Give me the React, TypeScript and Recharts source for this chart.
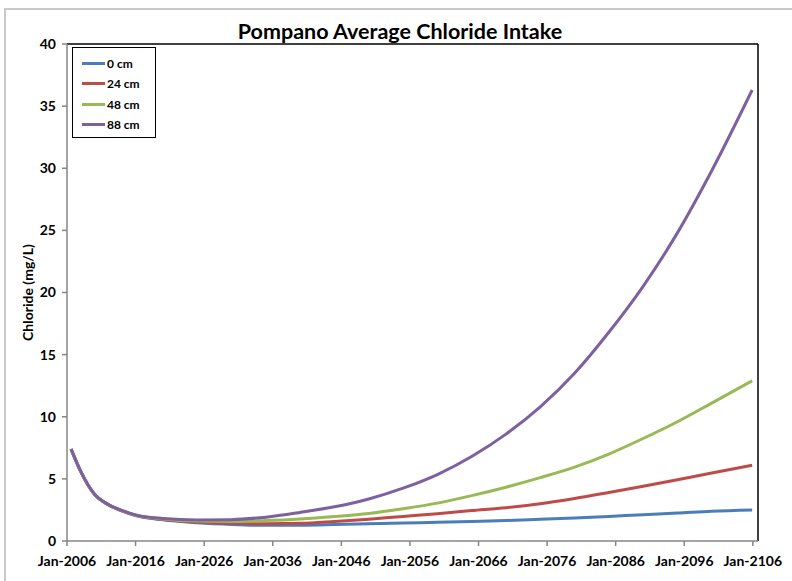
import { LineChart, Line, XAxis, YAxis, ReferenceLine, Label } from 'recharts';

const years = [2006.6, 2008, 2010, 2012, 2014, 2016, 2020, 2025, 2030, 2035, 2040, 2045, 2050, 2055, 2060, 2065, 2070, 2075, 2080, 2085, 2090, 2095, 2100, 2105.9];

const cm0 = [7.4, 5.6, 3.75, 2.92, 2.42, 2.05, 1.7, 1.47, 1.33, 1.26, 1.27, 1.32, 1.38, 1.45, 1.5, 1.57, 1.65, 1.75, 1.85, 1.98, 2.12, 2.25, 2.4, 2.5];
const cm24 = [7.4, 5.6, 3.75, 2.93, 2.43, 2.07, 1.73, 1.52, 1.42, 1.38, 1.42, 1.57, 1.75, 1.98, 2.2, 2.45, 2.68, 3.0, 3.42, 3.9, 4.4, 4.93, 5.48, 6.1];
const cm48 = [7.4, 5.6, 3.76, 2.94, 2.44, 2.08, 1.77, 1.6, 1.57, 1.64, 1.77, 1.97, 2.22, 2.6, 3.05, 3.65, 4.33, 5.1, 5.95, 7.0, 8.25, 9.6, 11.1, 12.9];
const cm88 = [7.4, 5.6, 3.78, 2.95, 2.46, 2.1, 1.82, 1.7, 1.72, 1.92, 2.3, 2.75, 3.38, 4.25, 5.35, 6.8, 8.6, 10.8, 13.5, 16.8, 20.5, 24.8, 29.8, 36.3];

const xTicks = [2006, 2016, 2026, 2036, 2046, 2056, 2066, 2076, 2086, 2096, 2106];
const yTicks = [0, 5, 10, 15, 20, 25, 30, 35, 40];

const series = [
  { key: 'cm0', name: '0 cm', color: '#4a7ebb' },
  { key: 'cm24', name: '24 cm', color: '#be4b48' },
  { key: 'cm48', name: '48 cm', color: '#98b954' },
  { key: 'cm88', name: '88 cm', color: '#7d60a0' },
];

const data = years.map((year, i) => ({
  year,
  cm0: cm0[i],
  cm24: cm24[i],
  cm48: cm48[i],
  cm88: cm88[i],
}));

const FONT = 'Lato, "Open Sans", sans-serif';
const X_MAX = 2106.75;

const LegendBox = () => (
  <div
    style={{
      position: 'absolute',
      left: 72,
      top: 47,
      boxSizing: 'border-box',
      border: '1.5px solid #000',
      background: '#fff',
      width: 84,
      height: 91,
      padding: '5px 0 0 0',
      fontFamily: FONT,
      fontWeight: 700,
      fontSize: 12,
    }}
  >
    {series.map((s) => (
      <div key={s.key} style={{ display: 'flex', alignItems: 'center', height: 20.5 }}>
        <div style={{ width: 23, height: 3, background: s.color, marginLeft: 9, marginRight: 2 }} />
        <span>{s.name}</span>
      </div>
    ))}
  </div>
);

export default function App() {
  return (
    <div style={{ position: 'absolute', left: 0, top: 0, width: 792, height: 581, background: '#fff' }}>
      <div style={{ position: 'absolute', left: 4, top: 8, width: 788, height: 573, borderLeft: '2px solid #c8c8c8', borderTop: '2px solid #c8c8c8' }} />
      <div
        style={{
          position: 'absolute',
          left: 0,
          width: 800,
          top: 18,
          textAlign: 'center',
          fontFamily: FONT,
          fontWeight: 700,
          fontSize: 21.5,
          lineHeight: '26px',
        }}
      >
        Pompano Average Chloride Intake
      </div>
      <div style={{ position: 'absolute', left: 0, top: 0 }}>
        <LineChart width={792} height={581} data={data} margin={{ top: 44, right: 34, left: 0, bottom: 0 }}>
          <XAxis
            dataKey="year"
            type="number"
            domain={[2006, X_MAX]}
            ticks={xTicks}
            tickFormatter={(v) => `Jan-${v}`}
            stroke="#868686"
            strokeWidth={1.5}
            tickSize={5}
            height={40}
            tick={{ fill: '#000', fontFamily: FONT, fontWeight: 700, fontSize: 14, dy: 8 }}
            allowDataOverflow
          />
          <YAxis
            type="number"
            domain={[0, 40]}
            ticks={yTicks}
            stroke="#868686"
            strokeWidth={1.5}
            tickSize={5}
            width={67}
            tick={{ fill: '#000', fontFamily: FONT, fontWeight: 700, fontSize: 14, dx: -4 }}
          >
            <Label
              value="Chloride (mg/L)"
              angle={-90}
              position="insideLeft"
              offset={0}
              dx={28}
              style={{ fill: '#000', fontFamily: FONT, fontWeight: 700, fontSize: 14, textAnchor: 'middle' }}
            />
          </YAxis>
          <ReferenceLine y={40} stroke="#000" strokeWidth={1.5} />
          <ReferenceLine x={X_MAX} stroke="#000" strokeWidth={1.5} />
          {series.map((s) => (
            <Line
              key={s.key}
              type="monotone"
              dataKey={s.key}
              name={s.name}
              stroke={s.color}
              strokeWidth={3}
              dot={false}
              isAnimationActive={false}
            />
          ))}
        </LineChart>
      </div>
      <LegendBox />
    </div>
  );
}
